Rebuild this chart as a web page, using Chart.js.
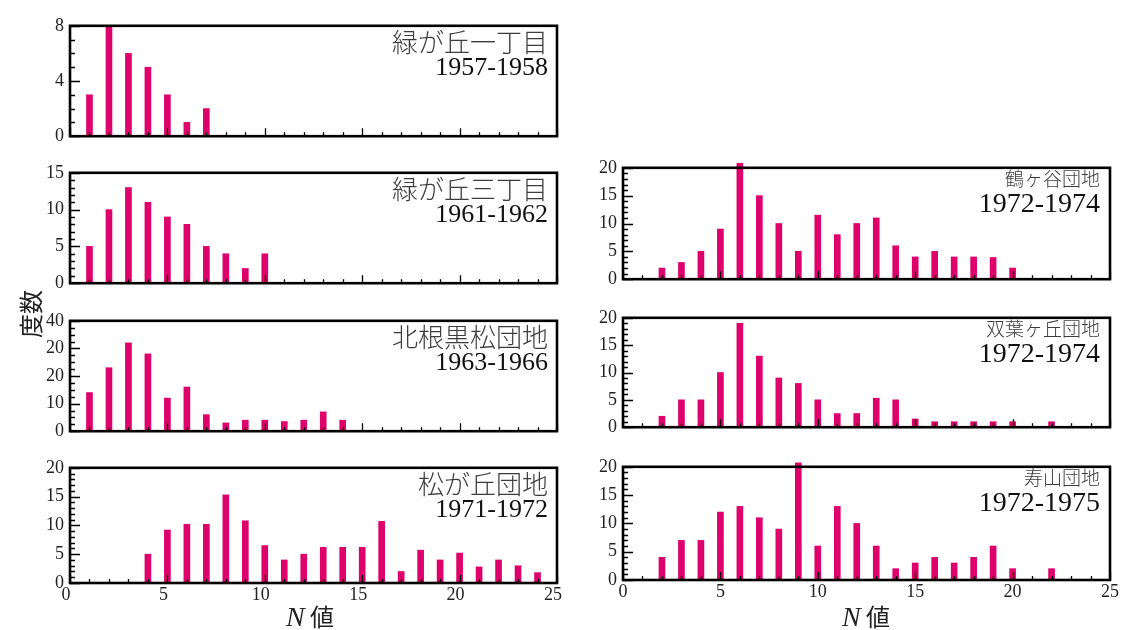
<!DOCTYPE html>
<html lang="ja">
<head>
<meta charset="UTF-8">
<title>N値の度数分布</title>
<script src="https://cdn.jsdelivr.net/npm/chart.js"></script>
<style>
    body { margin: 0; background: #fff; }
    #page { position: relative; width: 1121px; height: 630px; overflow: hidden; }
    canvas { position: absolute; }
    .ttl { position: absolute; white-space: nowrap; transform: translateY(-50%); text-align: right; line-height: 1; }
    .jp { font-family: "Noto Sans CJK JP"; color: #3c3c3c; font-weight: 300; }
    .yr { font-family: "Liberation Serif"; color: #111; }
    .axt { position: absolute; white-space: nowrap; line-height: 1; color: #222; }
</style>
</head>
<body>
<div id="page"></div>
<script>
    // N値 (x) と度数 (y)
    var nMidori1 = [1, 2, 3, 4, 5, 6, 7];
    var fMidori1 = [3, 8, 6, 5, 3, 1, 2];
    var yTicksMidori1 = ['0', '4', '8'];

    var nMidori3 = [1, 2, 3, 4, 5, 6, 7, 8, 9, 10];
    var fMidori3 = [5, 10, 13, 11, 9, 8, 5, 4, 2, 4];
    var yTicksMidori3 = ['0', '5', '10', '15'];

    var nKitane = [1, 2, 3, 4, 5, 6, 7, 8, 9, 10, 11, 12, 13, 14];
    var fKitane = [14, 23, 32, 28, 12, 16, 6, 3, 4, 4, 3.5, 4, 7, 4];
    var yTicksKitane = ['0', '10', '20', '20', '40'];

    var nMatsu = [4, 5, 6, 7, 8, 9, 10, 11, 12, 13, 14, 15, 16, 17, 18, 19, 20, 21, 22, 23, 24];
    var fMatsu = [5, 9.2, 10.2, 10.2, 15.3, 10.8, 6.5, 4, 5, 6.2, 6.2, 6.2, 10.7, 2, 5.7, 4, 5.2, 2.8, 4, 3, 1.8];
    var yTicksMatsu = ['0', '5', '10', '15', '20'];

    var nTsuru = [2, 3, 4, 5, 6, 7, 8, 9, 10, 11, 12, 13, 14, 15, 16, 17, 18, 19, 20];
    var fTsuru = [2, 3, 5, 9, 20.8, 15, 10, 5, 11.5, 8, 10, 11, 6, 4, 5, 4, 4, 3.9, 2];

    var nFutaba = [2, 3, 4, 5, 6, 7, 8, 9, 10, 11, 12, 13, 14, 15, 16, 17, 18, 19, 20, 22];
    var fFutaba = [2, 5, 5, 10, 19, 13, 9, 8, 5, 2.5, 2.5, 5.3, 5, 1.5, 1, 1, 1, 1, 1, 1];

    var nJuzan = [2, 3, 4, 5, 6, 7, 8, 9, 10, 11, 12, 13, 14, 15, 16, 17, 18, 19, 20, 22];
    var fJuzan = [4, 7, 7, 12, 13, 11, 9, 20.7, 6, 13, 10, 6, 2, 3, 4, 3, 4, 6, 2, 2];

    var yTicksRight = ['0', '5', '10', '15', '20'];
    var xTicks = ['0', '5', '10', '15', '20', '25'];

    var barColor = '#de006b';
    var PW = 487, AXW = 60, PT = 12, PR = 12;

    var panels = [
        { name: '緑が丘一丁目', years: '1957-1958', n: nMidori1, f: fMidori1, yt: yTicksMidori1, max: 8, major: 4, minor: 1, l: 70, t: 21, h: 120, bottom: false },
        { name: '緑が丘三丁目', years: '1961-1962', n: nMidori3, f: fMidori3, yt: yTicksMidori3, max: 15, major: 5, minor: 1, l: 70, t: 168, h: 120, bottom: false },
        { name: '北根黒松団地', years: '1963-1966', n: nKitane, f: fKitane, yt: yTicksKitane, max: 40, major: 10, minor: 2.5, l: 70, t: 316, h: 120, bottom: false },
        { name: '松が丘団地', years: '1971-1972', n: nMatsu, f: fMatsu, yt: yTicksMatsu, max: 20, major: 5, minor: 1, l: 70, t: 463, h: 120, bottom: true, off: -4 },
        { name: '鶴ヶ谷団地', years: '1972-1974', n: nTsuru, f: fTsuru, yt: yTicksRight, max: 20, major: 5, minor: 1, l: 623, t: 163, h: 121, bottom: false, right: true },
        { name: '双葉ヶ丘団地', years: '1972-1974', n: nFutaba, f: fFutaba, yt: yTicksRight, max: 20, major: 5, minor: 1, l: 623, t: 313, h: 119, bottom: false, right: true },
        { name: '寿山団地', years: '1972-1975', n: nJuzan, f: fJuzan, yt: yTicksRight, max: 20, major: 5, minor: 1, l: 623, t: 462, h: 118, bottom: true, right: true, off: 0 }
    ];

    // 枠と内向きの目盛り
    var framePlugin = {
        id: 'frame',
        afterDatasetsDraw: function (chart, args, opts) {
            var ctx = chart.ctx, a = chart.chartArea;
            var xs = chart.scales.x, ys = chart.scales.y;
            ctx.save();
            ctx.strokeStyle = '#000';
            ctx.lineWidth = 1.3;
            ctx.beginPath();
            for (var i = 0; i <= 25; i++) {
                var px = Math.round(xs.getPixelForValue(i)) + 0.5;
                var len = (i % 5 === 0) ? 8 : 4;
                ctx.moveTo(px, a.bottom);
                ctx.lineTo(px, a.bottom - len);
            }
            for (var v = 0; v <= opts.max + 0.001; v += opts.minor) {
                var py = Math.round(ys.getPixelForValue(v)) + 0.5;
                var len2 = (Math.abs(v / opts.major - Math.round(v / opts.major)) < 0.001) ? 10 : 5;
                ctx.moveTo(a.left, py);
                ctx.lineTo(a.left + len2, py);
            }
            ctx.stroke();
            ctx.lineWidth = 2.6;
            ctx.strokeRect(a.left, a.top, a.right - a.left, a.bottom - a.top);
            ctx.restore();
        }
    };

    var page = document.getElementById('page');
    var tickFont = { family: 'Liberation Serif', size: 18 };

    panels.forEach(function (p) {
        var cv = document.createElement('canvas');
        var w = AXW + PW + PR;
        var h = PT + p.h + (p.bottom ? 32 : 12);
        cv.width = w; cv.height = h;
        cv.style.left = (p.l - AXW) + 'px';
        cv.style.top = (p.t - PT) + 'px';
        cv.style.width = w + 'px';
        cv.style.height = h + 'px';
        page.appendChild(cv);

        new Chart(cv.getContext('2d'), {
            type: 'bar',
            data: {
                datasets: [{
                    data: p.n.map(function (x, i) { return { x: x, y: p.f[i] }; }),
                    backgroundColor: barColor,
                    barThickness: 6,
                    clip: false
                }]
            },
            options: {
                responsive: false,
                animation: false,
                devicePixelRatio: 1,
                layout: { padding: { left: 0, top: PT, right: PR, bottom: p.bottom ? 0 : 12 } },
                plugins: {
                    legend: { display: false },
                    tooltip: { enabled: false },
                    frame: { max: p.max, major: p.major, minor: p.minor }
                },
                scales: {
                    x: {
                        type: 'linear', min: 0, max: 25, offset: false,
                        grid: { display: false, drawTicks: false, offset: false },
                        border: { display: false },
                        ticks: {
                            display: p.bottom, stepSize: 5, autoSkip: false, maxRotation: 0,
                            font: tickFont, color: '#222', padding: 1, labelOffset: p.off || 0,
                            callback: function (val, idx) { return xTicks[idx]; }
                        },
                        afterFit: function (s) { s.height = p.bottom ? 32 : 0; }
                    },
                    y: {
                        min: 0, max: p.max,
                        grid: { display: false, drawTicks: false },
                        border: { display: false },
                        ticks: {
                            stepSize: p.major, font: tickFont, color: '#222', padding: 6,
                            callback: function (val, idx) { return p.yt[idx]; }
                        },
                        afterFit: function (s) { s.width = AXW; }
                    }
                }
            },
            plugins: [framePlugin]
        });

        var r = p.l + PW - (p.right ? 10 : 9);
        var jp = document.createElement('div');
        jp.className = 'ttl jp';
        jp.textContent = p.name;
        jp.style.fontSize = (p.right ? 19 : 26) + 'px';
        jp.style.right = (1121 - r) + 'px';
        jp.style.top = (p.t + (p.right ? 14 : 20)) + 'px';
        page.appendChild(jp);

        var yr = document.createElement('div');
        yr.className = 'ttl yr';
        yr.textContent = p.years;
        yr.style.fontSize = (p.right ? 28 : 26) + 'px';
        yr.style.right = (1121 - r) + 'px';
        yr.style.top = (p.t + (p.right ? 40 : 46)) + 'px';
        page.appendChild(yr);
    });

    // 軸タイトル
    var yt = document.createElement('div');
    yt.className = 'axt';
    yt.style.fontFamily = '"Noto Sans CJK JP"';
    yt.style.fontSize = '24px';
    yt.style.left = '30px';
    yt.style.top = '314px';
    yt.style.transform = 'translate(-50%, -50%) rotate(-90deg)';
    yt.textContent = '度数';
    page.appendChild(yt);

    [310, 866].forEach(function (cx) {
        var d = document.createElement('div');
        d.className = 'axt';
        d.style.left = cx + 'px';
        d.style.top = '617px';
        d.style.transform = 'translate(-50%, -50%)';
        d.innerHTML = '<span style="font-family:\'Liberation Serif\';font-style:italic;font-size:28px">N</span>' +
            '<span style="font-family:\'Noto Sans CJK JP\';font-size:24px"> 値</span>';
        page.appendChild(d);
    });
</script>
</body>
</html>
